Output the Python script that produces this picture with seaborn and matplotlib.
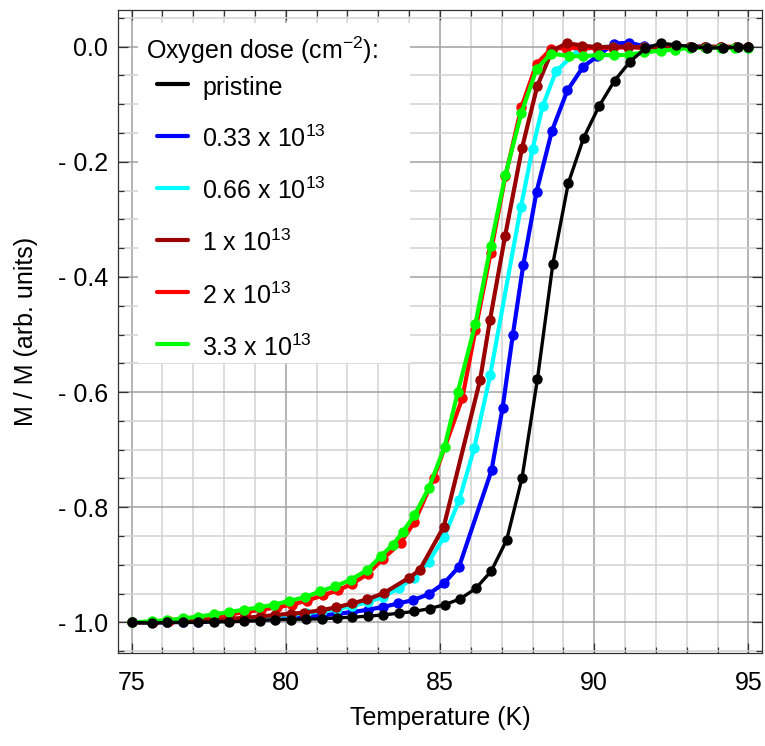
import matplotlib
matplotlib.use("Agg")
import matplotlib.pyplot as plt
import pandas as pd
import seaborn as sns
from matplotlib.lines import Line2D
from matplotlib.patches import Rectangle
from matplotlib.ticker import MultipleLocator, FixedLocator, FixedFormatter

# ---- measured normalised magnetisation vs temperature ----
t_pristine = [75.0, 75.66, 76.16, 76.66, 77.16, 77.66, 78.16, 78.66, 79.16, 79.66, 80.16,
              80.66, 81.16, 81.66, 82.16, 82.66, 83.16, 83.66, 84.16, 84.66, 85.16, 85.66,
              86.16, 86.66, 87.16, 87.66, 88.16, 88.66, 89.16, 89.66, 90.16, 90.66, 91.16,
              91.66, 92.16, 92.66, 93.16, 93.66, 94.16, 94.66, 95.0]
m_pristine = [-1.000, -1.001, -1.000, -1.000, -1.000, -0.999, -0.999, -0.998, -0.997, -0.995,
              -0.995, -0.994, -0.994, -0.992, -0.991, -0.989, -0.987, -0.984, -0.981, -0.976,
              -0.969, -0.959, -0.941, -0.911, -0.857, -0.749, -0.577, -0.377, -0.237, -0.158,
              -0.103, -0.059, -0.026, -0.003, 0.006, 0.003, 0.000, -0.002, -0.002, -0.001, -0.001]

t_033 = [75.0, 75.66, 76.16, 76.66, 77.16, 77.66, 78.16, 78.66, 79.16, 79.66, 80.16, 80.66,
         81.16, 81.66, 82.16, 82.66, 83.16, 83.65, 84.14, 84.63, 85.13, 85.62, 86.67, 87.03,
         87.36, 87.70, 88.13, 88.63, 89.13, 89.64, 90.09, 90.63, 91.12, 91.61, 92.12, 92.62,
         93.12, 93.62, 94.12, 94.62, 95.0]
m_033 = [-1.000, -1.000, -1.000, -0.999, -0.999, -0.998, -0.997, -0.996, -0.995, -0.994,
         -0.992, -0.990, -0.988, -0.985, -0.982, -0.978, -0.973, -0.967, -0.961, -0.951,
         -0.932, -0.903, -0.736, -0.627, -0.501, -0.379, -0.252, -0.146, -0.076, -0.035,
         -0.017, 0.005, 0.007, 0.001, -0.001, -0.001, 0.000, 0.000, -0.001, -0.001, -0.001]

t_066 = [75.0, 75.66, 76.16, 76.66, 77.16, 77.66, 78.16, 78.66, 79.16, 79.66, 80.16, 80.66,
         81.16, 81.66, 82.16, 82.66, 83.16, 83.66, 84.15, 84.63, 85.13, 85.62, 86.11, 86.63,
         87.62, 88.00, 88.33, 88.76, 89.50, 90.10, 90.60, 91.10, 91.60, 92.10, 92.60, 93.10,
         93.60, 94.10, 94.60, 95.0]
m_066 = [-1.000, -1.000, -0.999, -0.998, -0.997, -0.996, -0.995, -0.993, -0.991, -0.989,
         -0.987, -0.984, -0.981, -0.977, -0.971, -0.965, -0.955, -0.941, -0.922, -0.895,
         -0.852, -0.788, -0.697, -0.570, -0.279, -0.178, -0.103, -0.043, -0.005, -0.001,
         0.000, -0.001, -0.001, -0.001, 0.000, -0.001, -0.001, -0.001, -0.001, -0.001]

t_1 = [75.0, 75.66, 76.16, 76.66, 77.16, 77.66, 78.16, 78.66, 79.16, 79.66, 80.16, 80.59,
       81.13, 81.62, 82.15, 82.64, 83.18, 84.01, 84.34, 85.12, 86.30, 86.62, 87.11, 87.66,
       88.15, 88.63, 89.12, 89.61, 90.10, 90.60, 91.10, 91.60, 92.10, 92.60, 93.10, 93.60,
       94.10, 94.60, 95.0]
m_1 = [-1.000, -1.000, -0.999, -0.998, -0.997, -0.996, -0.994, -0.992, -0.990, -0.987,
       -0.985, -0.983, -0.979, -0.974, -0.967, -0.960, -0.949, -0.922, -0.909, -0.834,
       -0.579, -0.475, -0.329, -0.176, -0.069, -0.007, 0.006, 0.002, -0.001, 0.000,
       0.000, -0.001, 0.000, 0.000, 0.000, 0.000, 0.000, 0.000, 0.000]

t_2 = [75.0, 75.70, 76.20, 76.70, 77.20, 77.70, 78.20, 78.70, 79.20, 79.70, 80.20, 80.70,
       81.20, 81.70, 82.15, 82.65, 83.16, 83.72, 84.17, 84.80, 85.72, 86.15, 86.64, 87.12,
       87.64, 88.13, 88.60, 89.10, 89.60, 90.10, 90.60, 91.10, 91.60, 92.10, 92.60, 93.10,
       93.60, 94.10, 94.60, 95.0]
m_2 = [-1.000, -0.999, -0.998, -0.996, -0.993, -0.990, -0.986, -0.982, -0.978, -0.974,
       -0.969, -0.962, -0.953, -0.944, -0.933, -0.916, -0.889, -0.862, -0.826, -0.749,
       -0.611, -0.492, -0.359, -0.225, -0.105, -0.030, -0.004, -0.002, -0.003, -0.002,
       -0.002, -0.001, -0.002, -0.001, -0.001, -0.001, -0.001, -0.001, -0.001, -0.001]

t_33 = [75.0, 75.67, 76.16, 76.67, 77.16, 77.67, 78.15, 78.64, 79.13, 79.61, 80.10, 80.62,
        81.12, 81.61, 82.10, 82.64, 83.10, 83.47, 83.79, 84.17, 84.64, 85.15, 85.58, 86.15,
        86.64, 87.12, 87.64, 88.13, 88.60, 89.17, 89.64, 90.15, 90.63, 91.12, 91.60, 92.15,
        92.63, 93.12, 93.61, 94.10, 94.58, 95.0]
m_33 = [-1.000, -0.998, -0.996, -0.993, -0.990, -0.986, -0.982, -0.978, -0.974, -0.969,
        -0.963, -0.956, -0.946, -0.937, -0.926, -0.909, -0.884, -0.865, -0.843, -0.814,
        -0.766, -0.695, -0.599, -0.481, -0.347, -0.223, -0.115, -0.039, -0.012, -0.016,
        -0.017, -0.014, -0.015, -0.014, -0.010, -0.007, -0.005, -0.002, -0.002, -0.002,
        -0.002, -0.002]

series_labels = ["pristine", "0.33 x 10$^{13}$", "0.66 x 10$^{13}$",
                 "1 x 10$^{13}$", "2 x 10$^{13}$", "3.3 x 10$^{13}$"]
series_colors = ["#000000", "#0000ff", "#00ffff", "#990000", "#ff0000", "#00ff00"]
series_t = [t_pristine, t_033, t_066, t_1, t_2, t_33]
series_m = [m_pristine, m_033, m_066, m_1, m_2, m_33]

x_major = [75, 80, 85, 90, 95]
y_major = [0.0, -0.2, -0.4, -0.6, -0.8, -1.0]
y_major_labels = ["0.0", "- 0.2", "- 0.4", "- 0.6", "- 0.8", "- 1.0"]

legend_title = "Oxygen dose (cm$^{-2}$):"

# ---- style ----
sns.set_theme(style="ticks")
plt.rcParams["font.family"] = ["Liberation Sans", "DejaVu Sans"]
plt.rcParams["mathtext.fontset"] = "custom"
plt.rcParams["mathtext.rm"] = "Liberation Sans"
plt.rcParams["mathtext.it"] = "Liberation Sans:italic"
plt.rcParams["mathtext.bf"] = "Liberation Sans:bold"
plt.rcParams["text.color"] = "black"
plt.rcParams["axes.labelcolor"] = "black"

FS = 18

fig = plt.figure(figsize=(7.65, 7.46), dpi=100)
ax = fig.add_axes([118 / 765, 1 - 653 / 746, 644 / 765, 643 / 746])

# draw order: pristine on top
draw_order = [1, 2, 4, 3, 5, 0]
for z, i in enumerate(draw_order):
    df = pd.DataFrame({"T": series_t[i], "M": series_m[i]})
    lw = 2.4 if i == 0 else 3.0
    sns.lineplot(data=df, x="T", y="M", ax=ax, color=series_colors[i], lw=lw,
                 marker="o", markersize=7.5, markeredgewidth=0, sort=False,
                 estimator=None, zorder=3 + z)

ax.set_xlim(74.56, 95.44)
ax.set_ylim(-1.0531, 0.0637)

ax.xaxis.set_major_locator(FixedLocator(x_major))
ax.xaxis.set_minor_locator(MultipleLocator(1))
ax.yaxis.set_major_locator(FixedLocator(y_major))
ax.yaxis.set_major_formatter(FixedFormatter(y_major_labels))
ax.yaxis.set_minor_locator(MultipleLocator(0.05))

ax.set_axisbelow(True)
ax.grid(which="major", color="#a0a0a0", lw=1.1)
ax.grid(which="minor", color="#d2d2d2", lw=1.1)

ax.tick_params(which="both", direction="in", top=True, right=True,
               color="#333333", width=0.9, labelsize=FS, labelcolor="black")
ax.tick_params(which="major", length=7)
ax.tick_params(which="minor", length=4)
ax.tick_params(axis="x", which="major", pad=13)
ax.tick_params(axis="y", which="major", pad=7)
for sp in ax.spines.values():
    sp.set_color("#333333")
    sp.set_linewidth(0.9)

ax.set_xlabel("Temperature (K)", fontsize=FS, color="black")
ax.set_ylabel("M / M (arb. units)", fontsize=FS, color="black")
ax.xaxis.set_label_coords(0.5, -0.083)
ax.yaxis.set_label_coords(-0.124, 0.5)

# white panel behind the legend
ax.add_patch(Rectangle((0.031, 0.451), 0.4224, 0.5288, transform=ax.transAxes,
                       facecolor="white", edgecolor="none", zorder=1.5))

ax.text(0.0435, 0.9378, legend_title, transform=ax.transAxes, fontsize=FS,
        ha="left", va="center", zorder=10)

handles = [Line2D([], [], color=c, lw=3.0) for c in series_colors]
leg = ax.legend(handles, series_labels, loc="upper left",
                bbox_to_anchor=(0.0606, 0.903), frameon=False, fontsize=FS,
                handlelength=1.24, handletextpad=0.56, handleheight=1.4,
                labelspacing=0.93, borderpad=0, borderaxespad=0)
leg.set_zorder(10)

fig.savefig("out.png", dpi=100)
